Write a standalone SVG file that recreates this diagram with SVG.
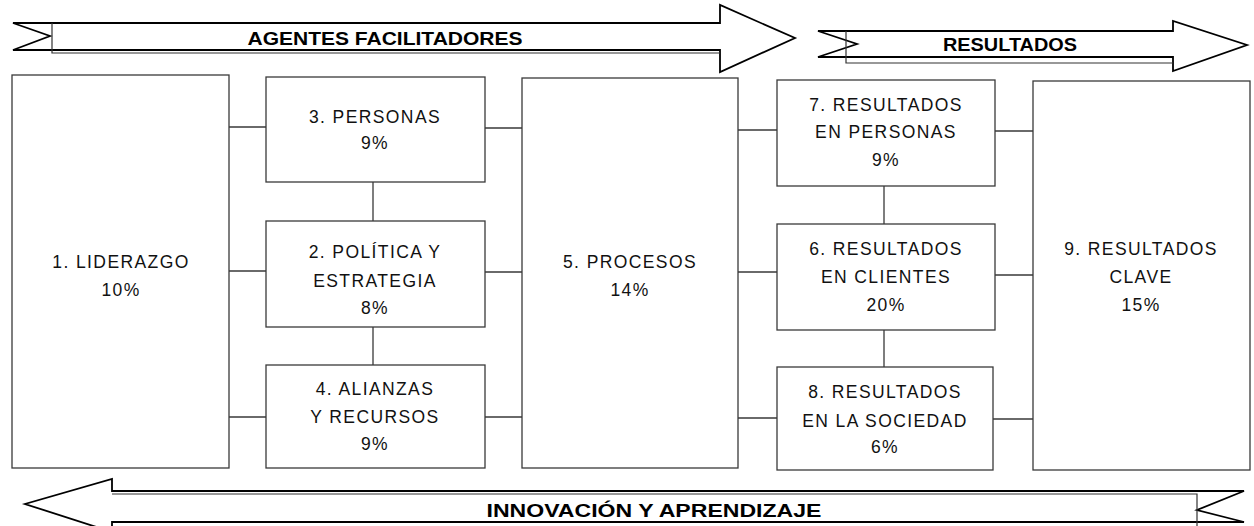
<svg xmlns="http://www.w3.org/2000/svg" width="1254" height="526" viewBox="0 0 1254 526">
<style>
.box{fill:#fff;stroke:#3a3a3a;stroke-width:1.3}
.lbl{font-family:"Liberation Sans",Arial,sans-serif;font-size:17.5px;letter-spacing:1.4px;fill:#111;text-anchor:middle}
.ban{font-family:"Liberation Sans",Arial,sans-serif;font-size:18px;font-weight:bold;fill:#000;text-anchor:middle}
.arr{fill:#fff;stroke:#000;stroke-width:1.8;stroke-linejoin:miter}
.thin{fill:none;stroke:#333;stroke-width:1.2}
.con{fill:none;stroke:#3a3a3a;stroke-width:1.3}
</style>
<rect width="1254" height="526" fill="#fff"/>

<g id="arrow-agentes">
<polygon class="arr" points="13,23 720,23 720,5 795,38 720,72 720,50 13,50 50,36"/>
<path class="thin" d="M52,23 V53 H720"/>
<text class="ban" x="385" y="45" textLength="275" lengthAdjust="spacingAndGlyphs">AGENTES FACILITADORES</text>
</g>

<g id="arrow-resultados">
<polygon class="arr" points="818,31 1173,31 1173,21 1247,45 1173,71 1173,57 818,57 857,44"/>
<path class="thin" d="M846,31 V63 H1173"/>
<text class="ban" x="1010" y="51" textLength="134" lengthAdjust="spacingAndGlyphs">RESULTADOS</text>
</g>

<g id="arrow-innovacion">
<polygon class="arr" points="1244,491 112,491 112,479 25,504 112,532 112,522 1244,522 1197,510"/>
<path class="thin" d="M112,494 H1197 V526"/>
<text class="ban" x="654" y="517" textLength="335" lengthAdjust="spacingAndGlyphs">INNOVACIÓN Y APRENDIZAJE</text>
</g>

<g id="connectors">
<path class="con" d="M229,127 H266 M229,271 H266 M229,417 H266"/>
<path class="con" d="M373,182 V221 M373,327 V365"/>
<path class="con" d="M485,128 H522 M485,272 H522 M485,417 H522"/>
<path class="con" d="M738,130 H777 M738,272 H777 M738,418 H777"/>
<path class="con" d="M884,186 V224 M884,330 V367"/>
<path class="con" d="M995,131 H1033 M995,275 H1033 M993,419 H1033"/>
</g>

<g id="node-1">
<rect class="box" x="12" y="75" width="217" height="393"/>
<text class="lbl" x="121" y="268">1. LIDERAZGO</text>
<text class="lbl" x="121" y="296">10%</text>
</g>

<g id="node-3">
<rect class="box" x="266" y="77" width="219" height="105"/>
<text class="lbl" x="375" y="123">3. PERSONAS</text>
<text class="lbl" x="375" y="149">9%</text>
</g>

<g id="node-2">
<rect class="box" x="266" y="221" width="219" height="106"/>
<text class="lbl" x="375" y="258">2. POLÍTICA Y</text>
<text class="lbl" x="375" y="287">ESTRATEGIA</text>
<text class="lbl" x="375" y="314">8%</text>
</g>

<g id="node-4">
<rect class="box" x="266" y="365" width="219" height="103"/>
<text class="lbl" x="375" y="395">4. ALIANZAS</text>
<text class="lbl" x="375" y="423">Y RECURSOS</text>
<text class="lbl" x="375" y="450">9%</text>
</g>

<g id="node-5">
<rect class="box" x="522" y="78" width="216" height="390"/>
<text class="lbl" x="630" y="268">5. PROCESOS</text>
<text class="lbl" x="630" y="296">14%</text>
</g>

<g id="node-7">
<rect class="box" x="777" y="80" width="218" height="106"/>
<text class="lbl" x="886" y="111">7. RESULTADOS</text>
<text class="lbl" x="886" y="138">EN PERSONAS</text>
<text class="lbl" x="886" y="166">9%</text>
</g>

<g id="node-6">
<rect class="box" x="777" y="224" width="218" height="106"/>
<text class="lbl" x="886" y="255">6. RESULTADOS</text>
<text class="lbl" x="886" y="283">EN CLIENTES</text>
<text class="lbl" x="886" y="311">20%</text>
</g>

<g id="node-8">
<rect class="box" x="777" y="367" width="216" height="103"/>
<text class="lbl" x="885" y="398">8. RESULTADOS</text>
<text class="lbl" x="885" y="427">EN LA SOCIEDAD</text>
<text class="lbl" x="885" y="453">6%</text>
</g>

<g id="node-9">
<rect class="box" x="1033" y="81" width="217" height="389"/>
<text class="lbl" x="1141" y="255">9. RESULTADOS</text>
<text class="lbl" x="1141" y="283">CLAVE</text>
<text class="lbl" x="1141" y="311">15%</text>
</g>
</svg>
